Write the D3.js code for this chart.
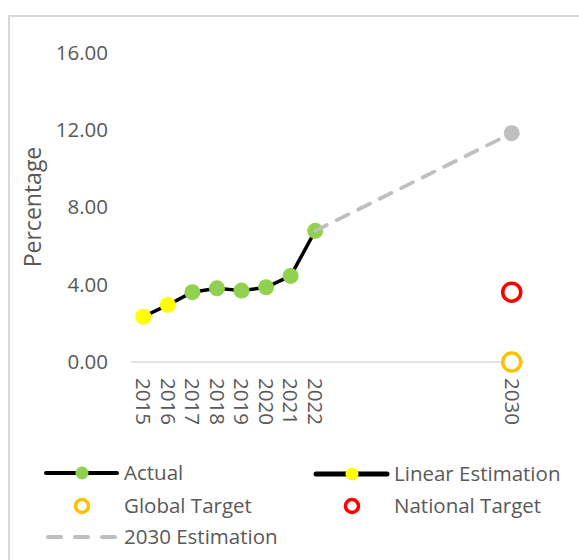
<!doctype html>
<html>
  <head>
    <meta charset="utf-8">
    <script src="https://cdnjs.cloudflare.com/ajax/libs/d3/7.8.5/d3.min.js"></script>
    <style>
      body { margin: 0; background: #fff; }
      svg text { font-family: "Open Sans", "Liberation Sans", sans-serif; fill: #595959; }
      .tick-label, .legend-label { font-size: 20.5px; }
      .axis-title { font-size: 23px; }
    </style>
  </head>
  <body>
    <svg id="chart" width="579" height="560"></svg>
    <script>
      // categories on the x axis (only some of them carry a label)
      var years = ["2015","2016","2017","2018","2019","2020","2021","2022",
                   "2023","2024","2025","2026","2027","2028","2029","2030"];
      var yearLabels = ["2015","2016","2017","2018","2019","2020","2021","2022","2030"];

      var actualYears = ["2017","2018","2019","2020","2021","2022"];
      var actualValues = [3.61, 3.81, 3.69, 3.86, 4.45, 6.78];

      var linearYears = ["2015","2016"];
      var linearValues = [2.34, 2.95];

      var estimationYears = ["2022","2030"];
      var estimationValues = [6.78, 11.83];

      var globalTargetYears = ["2030"];
      var globalTargetValues = [0];

      var nationalTargetYears = ["2030"];
      var nationalTargetValues = [3.61];

      var yTicks = [0, 4, 8, 12, 16];

      var svg = d3.select("#chart");

      // chart frame
      svg.append("rect")
        .attr("x", 9).attr("y", 16)
        .attr("width", 620).attr("height", 600)
        .attr("fill", "none")
        .attr("stroke", "#d9d9d9")
        .attr("stroke-width", 2);

      var x = d3.scaleBand().domain(years).range([131, 524]);
      var y = d3.scaleLinear().domain([0, 16]).range([362, 52.5]);
      var cx = function(yr) { return x(yr) + x.bandwidth() / 2; };

      function pairs(ks, vs) { return ks.map(function(k, i) { return {year: k, value: vs[i]}; }); }
      var actual = pairs(actualYears, actualValues);
      var linear = pairs(linearYears, linearValues);
      var estimation = pairs(estimationYears, estimationValues);

      // y tick labels
      svg.append("g").selectAll("text")
        .data(yTicks)
        .enter().append("text")
          .attr("class", "tick-label")
          .attr("x", 108)
          .attr("y", function(d) { return y(d); })
          .attr("dy", "0.35em")
          .attr("text-anchor", "end")
          .text(function(d) { return d3.format(".2f")(d); });

      svg.append("text")
        .attr("class", "axis-title")
        .attr("transform", "translate(33," + 207 + ") rotate(-90)")
        .attr("text-anchor", "middle")
        .attr("dy", "0.35em")
        .text("Percentage");

      // category axis line
      svg.append("line")
        .attr("x1", x.range()[0]).attr("x2", x.range()[1])
        .attr("y1", y(0)).attr("y2", y(0))
        .attr("stroke", "#d9d9d9").attr("stroke-width", 1.5);

      svg.append("g").selectAll("text")
        .data(yearLabels)
        .enter().append("text")
          .attr("class", "tick-label")
          .attr("transform", function(d) { return "translate(" + cx(d) + ",378) rotate(90)"; })
          .attr("dy", "0.35em")
          .text(function(d) { return d; });

      var line = d3.line()
        .x(function(d) { return cx(d.year); })
        .y(function(d) { return y(d.value); });

      // linear estimation joins onto the first actual point
      svg.append("path")
        .datum(linear.concat([actual[0]]))
        .attr("d", line)
        .attr("fill", "none").attr("stroke", "#000").attr("stroke-width", 3.5)
        .attr("stroke-linejoin", "round");

      svg.append("path")
        .datum(actual)
        .attr("d", line)
        .attr("fill", "none").attr("stroke", "#000").attr("stroke-width", 3.5)
        .attr("stroke-linejoin", "round");

      svg.append("g").selectAll("circle")
        .data(linear)
        .enter().append("circle")
          .attr("cx", function(d) { return cx(d.year); })
          .attr("cy", function(d) { return y(d.value); })
          .attr("r", 8).attr("fill", "#ffff00");

      svg.append("g").selectAll("circle")
        .data(actual)
        .enter().append("circle")
          .attr("cx", function(d) { return cx(d.year); })
          .attr("cy", function(d) { return y(d.value); })
          .attr("r", 8).attr("fill", "#92d050");

      svg.append("path")
        .datum(estimation)
        .attr("d", line)
        .attr("fill", "none").attr("stroke", "#bfbfbf").attr("stroke-width", 3.8)
        .attr("stroke-dasharray", "13,11").attr("stroke-linecap", "round");

      svg.append("circle")
        .attr("cx", cx(estimation[1].year)).attr("cy", y(estimation[1].value))
        .attr("r", 8).attr("fill", "#bfbfbf");

      svg.append("g").selectAll("circle")
        .data(pairs(nationalTargetYears, nationalTargetValues))
        .enter().append("circle")
          .attr("cx", function(d) { return cx(d.year); })
          .attr("cy", function(d) { return y(d.value); })
          .attr("r", 9).attr("fill", "#fff")
          .attr("stroke", "#ff0000").attr("stroke-width", 3.5);

      svg.append("g").selectAll("circle")
        .data(pairs(globalTargetYears, globalTargetValues))
        .enter().append("circle")
          .attr("cx", function(d) { return cx(d.year); })
          .attr("cy", function(d) { return y(d.value); })
          .attr("r", 9).attr("fill", "#fff")
          .attr("stroke", "#ffc000").attr("stroke-width", 3.5);

      // legend
      var legend = [
        {name: "Actual", x: 46, y: 473, kind: "line", width: 4, fill: "#92d050"},
        {name: "Linear Estimation", x: 316, y: 474, kind: "line", width: 5, fill: "#ffff00"},
        {name: "Global Target", x: 46, y: 506, kind: "ring", color: "#ffc000"},
        {name: "National Target", x: 316, y: 506, kind: "ring", color: "#ff0000"},
        {name: "2030 Estimation", x: 46, y: 537, kind: "dash"}
      ];

      var items = svg.append("g").selectAll("g")
        .data(legend)
        .enter().append("g")
          .attr("transform", function(d) { return "translate(" + d.x + "," + d.y + ")"; });

      items.each(function(d) {
        var g = d3.select(this);
        if (d.kind === "line") {
          g.append("line").attr("x1", 0).attr("x2", 71).attr("y1", 0).attr("y2", 0)
            .attr("stroke", "#000").attr("stroke-width", d.width).attr("stroke-linecap", "round");
          g.append("circle").attr("cx", 36).attr("r", 6.5).attr("fill", d.fill);
        } else if (d.kind === "ring") {
          g.append("circle").attr("cx", 36).attr("r", 6.5).attr("fill", "#fff")
            .attr("stroke", d.color).attr("stroke-width", 3.5);
        } else {
          g.append("line").attr("x1", 2).attr("x2", 71).attr("y1", 0).attr("y2", 0)
            .attr("stroke", "#bfbfbf").attr("stroke-width", 4)
            .attr("stroke-dasharray", "13,14").attr("stroke-linecap", "round");
        }
        g.append("text")
          .attr("class", "legend-label")
          .attr("x", 78)
          .attr("dy", "0.35em")
          .text(d.name);
      });
    </script>
  </body>
</html>
